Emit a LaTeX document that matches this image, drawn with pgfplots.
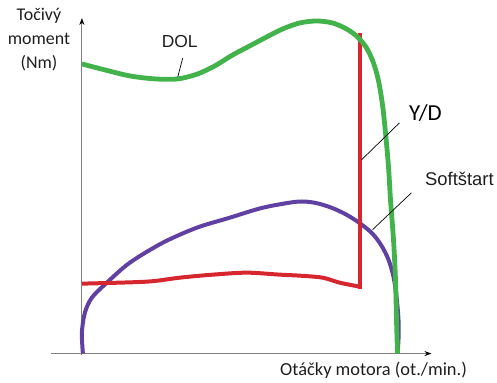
\documentclass[border=0pt]{standalone}
\usepackage{pgfplots}
\pgfplotsset{compat=1.18}
\usepackage{fontspec}
\setmainfont{Carlito}
\newfontfamily\arialf{Liberation Sans}
\usetikzlibrary{arrows.meta}
\definecolor{dolgreen}{RGB}{66,178,74}
\definecolor{ydred}{RGB}{214,38,46}
\definecolor{softpurple}{RGB}{96,64,160}
\definecolor{axgray}{RGB}{128,128,128}
\definecolor{txt}{RGB}{30,30,30}
\begin{document}
\begin{tikzpicture}
\begin{axis}[
  scale only axis, width=497bp, height=379bp,
  xmin=0, xmax=497, ymin=0, ymax=379, y dir=reverse,
  hide axis, clip=false,
]
\addplot[draw=none] coordinates {(0,0) (497,379)};
% axes
\addplot[axgray, line width=1.2bp, -{Stealth[black,length=7bp,width=5bp]}] coordinates {(82,355) (82,18)};
\addplot[axgray, line width=1.2bp, -{Stealth[black,length=7bp,width=5bp]}] coordinates {(51,354) (432,354)};
% Softstart
\addplot[softpurple, line width=4bp, smooth, tension=0.5] coordinates {
(83,354) (82,333) (85,313) (92,298) (107,283) (130,263) (163,243) (197,228) (230,218) (263,208) (297,202) (315,203) (332,208) (347,215) (361,224) (373,234) (382,246) (389,260) (394,277) (397,297) (399,320) (399,340) (398,354)};
% Y/D
\addplot[ydred, line width=4bp, line join=miter, smooth, tension=0.5] coordinates {
(82,284) (147,282) (180,278) (213,275) (247,273) (280,275) (300,276) (323,278) (340,283) (360,287)};
\addplot[ydred, line width=4bp] coordinates {(360,289) (360,33)};
% DOL
\addplot[dolgreen, line width=4.8bp, smooth, tension=0.5] coordinates {
(82,64) (105,70) (130,76) (155,79) (178,79) (198,74) (215,66) (233,55) (250,46) (267,37) (283,29) (300,23) (317,21) (333,23) (347,29) (358,37) (367,48) (374,63) (379,81) (383,105) (386,133) (389,167) (391,200) (394,240) (396,280) (397,320) (398,354)};
% leader lines
\addplot[black, line width=0.7bp] coordinates {(183,58) (178,77)};
\addplot[black, line width=0.7bp] coordinates {(400,123) (362,160)};
\addplot[black, line width=0.7bp] coordinates {(412,193) (373,230)};
% texts
\node[txt, align=center, font=\fontsize{18}{24}\selectfont] at (axis cs:39,40) {Točivý\\moment\\(Nm)};
\node[txt, font=\arialf\fontsize{17.5}{20}\selectfont] at (axis cs:180,42) {DOL};
\node[black, font=\fontsize{23}{26}\selectfont] at (axis cs:426,113) {Y/D};
\node[txt, font=\arialf\fontsize{18.5}{20}\selectfont] at (axis cs:460,179) {Softštart};
\node[txt, font=\fontsize{18.5}{20}\selectfont] at (axis cs:374,371) {Otáčky motora (ot./min.)};
\end{axis}
\end{tikzpicture}
\end{document}
